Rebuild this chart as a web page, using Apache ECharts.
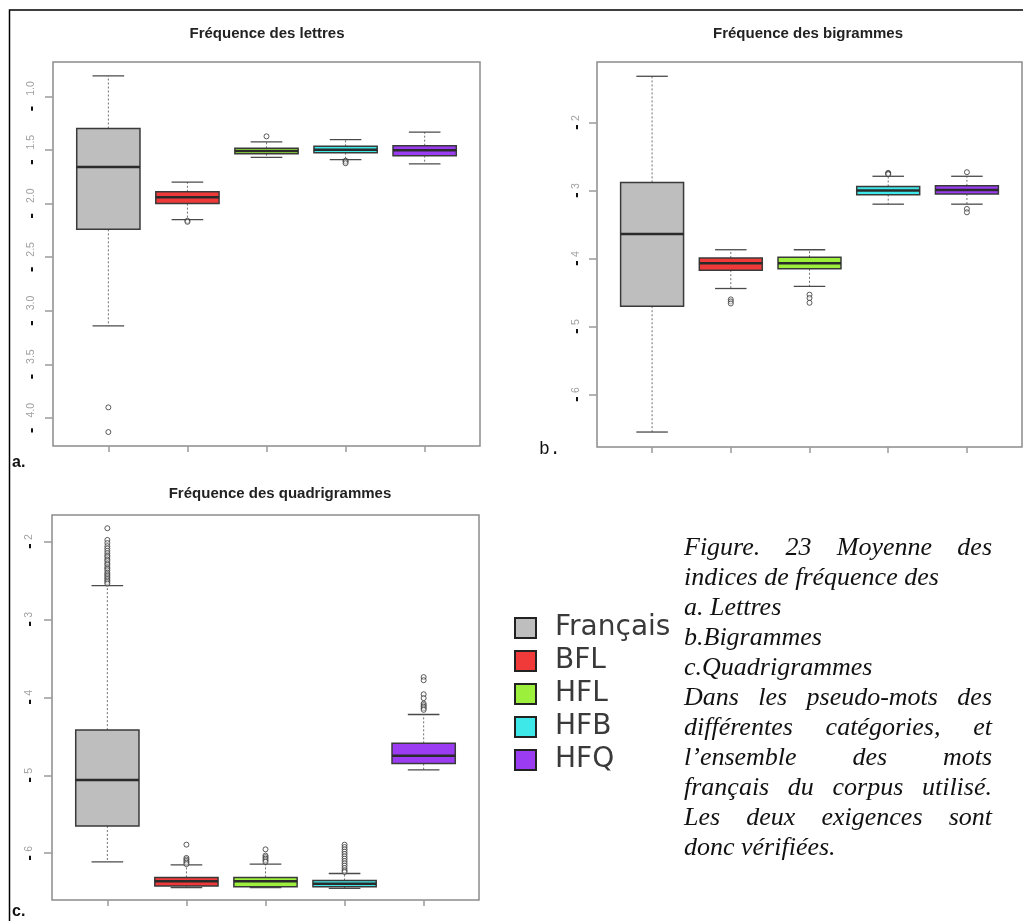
<!DOCTYPE html>
<html>
<head>
<meta charset="utf-8">
<script src="https://cdn.jsdelivr.net/npm/echarts@6/dist/echarts.min.js"></script>
<style>html,body{margin:0;padding:0;background:#fff}#c{width:1023px;height:921px}</style>
</head>
<body>
<div id="c"></div>
<script>
// ---------- DATA ----------
const categories = ['Français', 'BFL', 'HFL', 'HFB', 'HFQ'];
const panelTitles = ['Fréquence des lettres', 'Fréquence des bigrammes', 'Fréquence des quadrigrammes'];
const panelLetters = ['a.', 'b.', 'c.'];

// each row: [lower whisker, Q1, median, Q3, upper whisker]
const lettresStats = [
  [-3.14, -2.24, -1.66, -1.30, -0.81],
  [-2.15, -2.00, -1.94, -1.89, -1.80],
  [-1.57, -1.535, -1.51, -1.485, -1.425],
  [-1.59, -1.525, -1.497, -1.466, -1.404],
  [-1.63, -1.553, -1.503, -1.46, -1.333]
];
const lettresOutliers = [
  ['Français', -3.90], ['Français', -4.13],
  ['BFL', -2.16], ['BFL', -2.17],
  ['HFL', -1.373],
  ['HFB', -1.60], ['HFB', -1.61], ['HFB', -1.624]
];

const bigrammesStats = [
  [-6.55, -4.70, -3.64, -2.88, -1.32],
  [-4.44, -4.17, -4.07, -3.99, -3.87],
  [-4.41, -4.15, -4.07, -3.98, -3.87],
  [-3.20, -3.06, -3.00, -2.94, -2.79],
  [-3.20, -3.05, -2.99, -2.93, -2.79]
];
const bigrammesOutliers = [
  ['BFL', -4.60], ['BFL', -4.63], ['BFL', -4.66],
  ['HFL', -4.53], ['HFL', -4.58], ['HFL', -4.65],
  ['HFB', -2.74], ['HFB', -2.75], ['HFB', -2.76],
  ['HFQ', -2.73], ['HFQ', -3.27], ['HFQ', -3.32]
];

const quadrigrammesStats = [
  [-6.11, -5.65, -5.06, -4.42, -2.565],
  [-6.44, -6.42, -6.36, -6.31, -6.15],
  [-6.44, -6.43, -6.36, -6.31, -6.14],
  [-6.45, -6.43, -6.39, -6.35, -6.26],
  [-4.93, -4.85, -4.75, -4.59, -4.22]
];
const quadrigrammesOutliers = [
  ['Français', -1.83], ['Français', -1.98], ['Français', -2.02], ['Français', -2.06],
  ['Français', -2.09], ['Français', -2.12], ['Français', -2.15], ['Français', -2.18],
  ['Français', -2.20], ['Français', -2.23], ['Français', -2.25], ['Français', -2.28],
  ['Français', -2.30], ['Français', -2.33], ['Français', -2.35], ['Français', -2.37],
  ['Français', -2.40], ['Français', -2.42], ['Français', -2.44], ['Français', -2.46],
  ['Français', -2.48], ['Français', -2.50], ['Français', -2.52], ['Français', -2.54],
  ['BFL', -5.89], ['BFL', -6.06], ['BFL', -6.08], ['BFL', -6.10], ['BFL', -6.12], ['BFL', -6.14],
  ['HFL', -5.95], ['HFL', -6.03], ['HFL', -6.05], ['HFL', -6.07], ['HFL', -6.09], ['HFL', -6.11],
  ['HFB', -5.89], ['HFB', -5.92], ['HFB', -5.95], ['HFB', -5.98], ['HFB', -6.01], ['HFB', -6.04],
  ['HFB', -6.07], ['HFB', -6.10], ['HFB', -6.13], ['HFB', -6.16], ['HFB', -6.19], ['HFB', -6.22], ['HFB', -6.24],
  ['HFQ', -3.74], ['HFQ', -3.78], ['HFQ', -3.96], ['HFQ', -4.01], ['HFQ', -4.08],
  ['HFQ', -4.10], ['HFQ', -4.12], ['HFQ', -4.14], ['HFQ', -4.16]
];

const lettresTicks = [-4.0, -3.5, -3.0, -2.5, -2.0, -1.5, -1.0];
const bigrammesTicks = [-6, -5, -4, -3, -2];
const quadrigrammesTicks = [-6, -5, -4, -3, -2];
const yRanges = [[-4.26, -0.68], [-6.77, -1.11], [-6.60, -1.66]];

const captionLines = [
  ['Figure. 23 Moyenne des', true],
  ['indices de fréquence des', false],
  ['a. Lettres', false],
  ['b.Bigrammes', false],
  ['c.Quadrigrammes', false],
  ['Dans les pseudo-mots des', true],
  ['différentes catégories, et', true],
  ['l’ensemble des mots', true],
  ['français du corpus utilisé.', true],
  ['Les deux exigences sont', true],
  ['donc vérifiées.', false]
];

// ---------- STYLE / LAYOUT ----------
const boxColors = ['#bebebe', '#f03a3a', '#9cf03c', '#3ee8e8', '#9b3cf2'];
const grids = [
  {left: 53, top: 62, width: 427, height: 384},
  {left: 597, top: 62, width: 425, height: 385},
  {left: 52, top: 515, width: 427, height: 385}
];
const titlePos = [[267, 34], [808, 34], [280, 494]];
const letterPos = [[12, 463], [539, 449], [12, 912]];
const labelMargins = [13, 12, 14];
const decimals = [1, 0, 0];
const gaps = ['   ', ' ', ' '];
const allStats = [lettresStats, bigrammesStats, quadrigrammesStats];
const allOutliers = [lettresOutliers, bigrammesOutliers, quadrigrammesOutliers];
const allTicks = [lettresTicks, bigrammesTicks, quadrigrammesTicks];

function renderBox(params, api) {
  const x = api.value(0);
  const lo = api.coord([x, api.value(1)]);
  const q1 = api.coord([x, api.value(2)]);
  const md = api.coord([x, api.value(3)]);
  const q3 = api.coord([x, api.value(4)]);
  const hi = api.coord([x, api.value(5)]);
  const bw = api.size([0.8, 0])[0];
  const cw = api.size([0.4, 0])[0];
  const cx = md[0];
  const fill = api.visual('color');
  const dash = {stroke: '#707070', lineWidth: 1, lineDash: [2, 2]};
  const solid = {stroke: '#4a4a4a', lineWidth: 1.3};
  return {
    type: 'group',
    children: [
      {type: 'line', shape: {x1: cx, y1: q3[1], x2: cx, y2: hi[1]}, style: dash},
      {type: 'line', shape: {x1: cx, y1: q1[1], x2: cx, y2: lo[1]}, style: dash},
      {type: 'line', shape: {x1: cx - cw / 2, y1: hi[1], x2: cx + cw / 2, y2: hi[1]}, style: solid},
      {type: 'line', shape: {x1: cx - cw / 2, y1: lo[1], x2: cx + cw / 2, y2: lo[1]}, style: solid},
      {type: 'rect', shape: {x: cx - bw / 2, y: q3[1], width: bw, height: q1[1] - q3[1]},
        style: {fill: fill, stroke: '#3a3a3a', lineWidth: 1.5}},
      {type: 'line', shape: {x1: cx - bw / 2, y1: md[1], x2: cx + bw / 2, y2: md[1]},
        style: {stroke: '#2a2a2a', lineWidth: 2.5}}
    ]
  };
}

const xAxes = grids.map((g, i) => ({
  gridIndex: i, type: 'value', min: 0.3, max: 5.7,
  axisLine: {show: false}, splitLine: {show: false},
  axisLabel: {show: false},
  axisTick: {show: true, length: 6, customValues: categories.map((c, k) => k + 1),
    lineStyle: {color: '#9a9a9a', width: 1.5}}
}));

const yAxes = grids.map((g, i) => ({
  gridIndex: i, type: 'value', min: yRanges[i][0], max: yRanges[i][1],
  axisLine: {show: false}, splitLine: {show: false},
  axisTick: {show: true, length: 8, customValues: allTicks[i], lineStyle: {color: '#9a9a9a', width: 1.5}},
  axisLabel: {
    customValues: allTicks[i], rotate: 90, margin: labelMargins[i],
    formatter: v => '{m|-}' + gaps[i] + '{d|' + Math.abs(v).toFixed(decimals[i]) + '}',
    rich: {
      m: {color: '#111', fontWeight: 'bold', fontSize: 17, fontFamily: 'Liberation Sans'},
      d: {color: '#a0a0a0', fontSize: 10.5, fontFamily: 'Liberation Sans'}
    }
  }
}));

const series = [];
allStats.forEach((stats, p) => {
  categories.forEach((name, i) => {
    series.push({
      type: 'custom', name: name, xAxisIndex: p, yAxisIndex: p,
      itemStyle: {color: boxColors[i]},
      renderItem: renderBox, z: 2, silent: true,
      data: [[i + 1].concat(stats[i])]
    });
  });
  series.push({
    type: 'scatter', xAxisIndex: p, yAxisIndex: p, symbol: 'circle', symbolSize: 5, z: 3, silent: true,
    itemStyle: {color: 'rgba(255,255,255,0.6)', borderColor: '#333', borderWidth: 1},
    data: allOutliers[p].map(([n, v]) => [categories.indexOf(n) + 1, v])
  });
});

// caption layout (justified lines)
const capFontSize = 26, capFamily = 'Liberation Serif';
const mctx = document.createElement('canvas').getContext('2d');
mctx.font = 'italic ' + capFontSize + 'px "' + capFamily + '"';
const capLeft = 684, capRight = 992, capTop = 548, capStep = 30;
const graphics = [];
captionLines.forEach(([txt, just], k) => {
  const y = capTop + k * capStep;
  const base = {fontStyle: 'italic', fontSize: capFontSize, fontFamily: capFamily, fill: '#111', verticalAlign: 'middle'};
  if (!just) {
    graphics.push({type: 'text', x: capLeft, y: y, silent: true, style: Object.assign({text: txt}, base)});
  } else {
    const words = txt.split(' ');
    const widths = words.map(w => mctx.measureText(w).width);
    const total = widths.reduce((a, b) => a + b, 0);
    const gap = (capRight - capLeft - total) / (words.length - 1);
    let x = capLeft;
    words.forEach((w, j) => {
      graphics.push({type: 'text', x: x, y: y, silent: true, style: Object.assign({text: w}, base)});
      x += widths[j] + gap;
    });
  }
});
panelTitles.forEach((t, i) => {
  graphics.push({type: 'text', x: titlePos[i][0], y: titlePos[i][1], silent: true,
    style: {text: t, fontSize: 15, fontWeight: 'bold', fontFamily: 'Liberation Sans', fill: '#222',
      align: 'center', verticalAlign: 'middle'}});
});
const letterFonts = [
  {fontSize: 16, fontWeight: 'bold', fontFamily: 'Liberation Sans'},
  {fontSize: 18, fontWeight: 'normal', fontFamily: 'Liberation Mono'},
  {fontSize: 16, fontWeight: 'bold', fontFamily: 'Liberation Sans'}
];
panelLetters.forEach((t, i) => {
  graphics.push({type: 'text', x: letterPos[i][0], y: letterPos[i][1], silent: true,
    style: Object.assign({text: t, fill: '#111', verticalAlign: 'middle'}, letterFonts[i])});
});
graphics.push({type: 'polyline', silent: true, shape: {points: [[9.5, 921], [9.5, 10], [1023, 10]]},
  style: {stroke: '#000', lineWidth: 1.5, fill: null}});

const chart = echarts.init(document.getElementById('c'), null, {renderer: 'canvas'});
chart.setOption({
  animation: false,
  backgroundColor: '#fff',
  grid: grids.map(g => Object.assign({show: true, borderColor: '#8c8c8c', borderWidth: 1.5,
    backgroundColor: 'transparent'}, g)),
  xAxis: xAxes,
  yAxis: yAxes,
  legend: {
    orient: 'vertical', left: 514, top: 614, padding: 0,
    itemWidth: 21, itemHeight: 20, itemGap: 5, icon: 'rect', selectedMode: false,
    itemStyle: {borderColor: '#222', borderWidth: 2},
    textStyle: {fontFamily: 'DejaVu Sans', fontSize: 28, color: '#3a3a3a', lineHeight: 28, padding: [0, 0, 0, 14]},
    data: categories.map((n, i) => ({name: n, itemStyle: {color: boxColors[i]}}))
  },
  graphic: graphics,
  series: series
});
</script>
</body>
</html>
